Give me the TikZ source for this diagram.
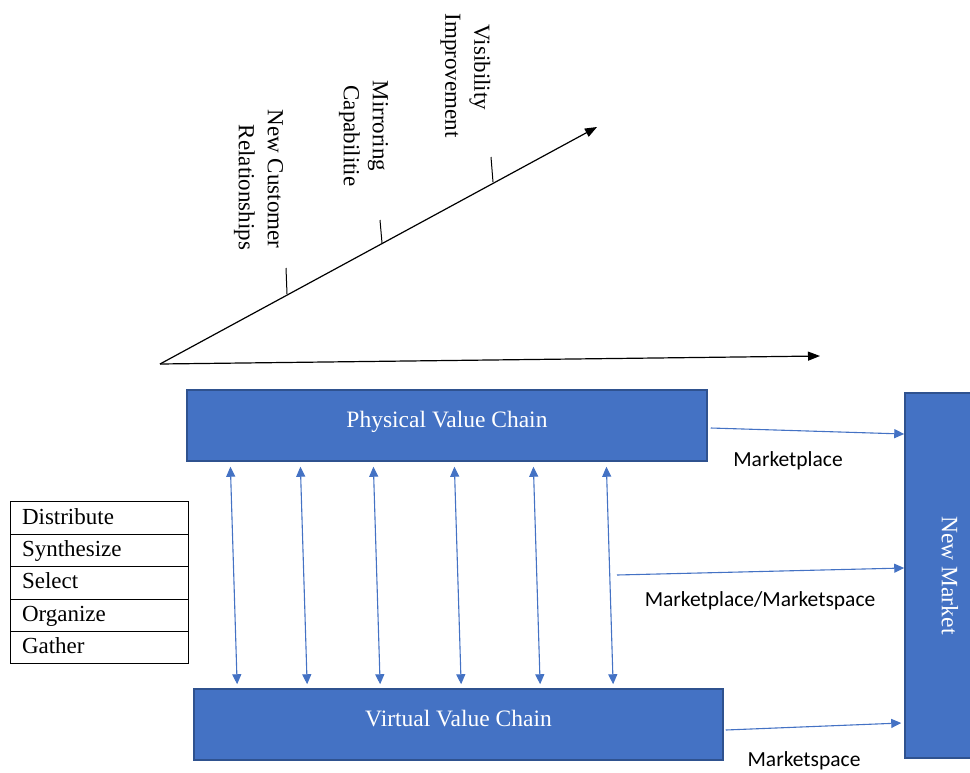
\documentclass[tikz,border=0pt]{standalone}
\usepackage{fontspec}
\usepackage{graphicx}
\setmainfont{Liberation Serif}
\newfontfamily\calibfont{Carlito}
\usetikzlibrary{arrows.meta}
\definecolor{boxblue}{HTML}{4472C4}
\definecolor{boxedge}{HTML}{2F528F}
\definecolor{linkblue}{HTML}{4472C4}
\begin{document}
\begin{tikzpicture}[x=1pt,y=-1pt,
  chainbase/.style={draw=boxedge, line width=1.5pt, fill=boxblue, text=white,
    font=\fontsize{23.5}{28}\selectfont, inner sep=0pt},
  chainbox/.style={chainbase, text height=16pt, text depth=12pt},
  axisline/.style={line width=1.2pt, -{Triangle[length=12pt,width=9pt]}},
  axtick/.style={line width=1pt},
  vlabel/.style={rotate=-90, align=center, font=\fontsize{23}{29}\selectfont, inner sep=0pt},
  rowbox/.style={draw, line width=0.8pt, text width=154pt, inner xsep=12pt, inner ysep=0pt,
    minimum height=32.4pt, align=left, font=\fontsize{23}{27}\selectfont,
    text height=15pt, text depth=3pt},
  conn/.style={draw=linkblue, line width=1.1pt},
  dblarrow/.style={conn, {Triangle[length=10pt,width=9pt]}-{Triangle[length=10pt,width=9pt]},
    shorten <=5pt, shorten >=4pt},
  sarrow/.style={conn, -{Triangle[length=10pt,width=9pt]}},
  mlabel/.style={font=\calibfont\fontsize{21.5}{26}\selectfont, inner sep=0pt, anchor=base}
]
\useasboundingbox (0,0) rectangle (970,772);

% axes
\coordinate (o) at (160,364);
\coordinate (xend) at (820,356);
\coordinate (dend) at (597,127);
\draw[axisline] (o) -- (xend);
\draw[axisline] (o) -- (dend);
\draw[axtick] (287,294) -- (286,268);
\draw[axtick] (382,243) -- (380,220);
\draw[axtick] (493,182) -- (491,157);

\node[vlabel] (ncr) at (258.5,179) {New Customer\\\hspace*{17pt}Relationships};
\node[vlabel] (mir) at (363.5,126) {Mirroring\\\hspace*{20pt}Capabilitie};
\node[vlabel] (vis) at (465.5,67.5) {Visibility\\\hspace*{16pt}Improvement};

% main boxes
\node[chainbox, minimum width=520pt, minimum height=71pt] (phys) at (447,425.5) {Physical Value Chain};
\node[chainbox, minimum width=529pt, minimum height=71pt] (virt) at (458.5,724.5) {Virtual Value Chain};
\node[chainbase, minimum width=90pt, minimum height=365pt] (market) at (950,575.5) {\rotatebox{-90}{New Market}};

% table
\node[rowbox] (r1) at (99,518) {Distribute};
\node[rowbox] (r2) at (99,550.4) {Synthesize};
\node[rowbox] (r3) at (99,582.8) {Select};
\node[rowbox] (r4) at (99,615.2) {Organize};
\node[rowbox] (r5) at (99,647.6) {Gather};

% double arrows
\foreach \dx in {44,114,187,268,347,420}{
  \draw[dblarrow] ([xshift=\dx pt]phys.south west) -- ([xshift=\dx pt]virt.north west);
}

% arrows to the new market
\coordinate (mid) at (617,575);
\draw[sarrow] ([xshift=3pt,yshift=-2.5pt]phys.east) -- ([yshift=141.5pt]market.west);
\draw[sarrow] (mid) -- ([yshift=7.5pt]market.west);
\draw[sarrow] ([xshift=2pt,yshift=-5.5pt]virt.east) -- ([xshift=-3pt,yshift=-147.5pt]market.west);

\node[mlabel] (l1) at (788,466) {Marketplace};
\node[mlabel] (l2) at (760,606) {Marketplace/Marketspace};
\node[mlabel] (l3) at (804,766) {Marketspace};
\end{tikzpicture}
\end{document}
